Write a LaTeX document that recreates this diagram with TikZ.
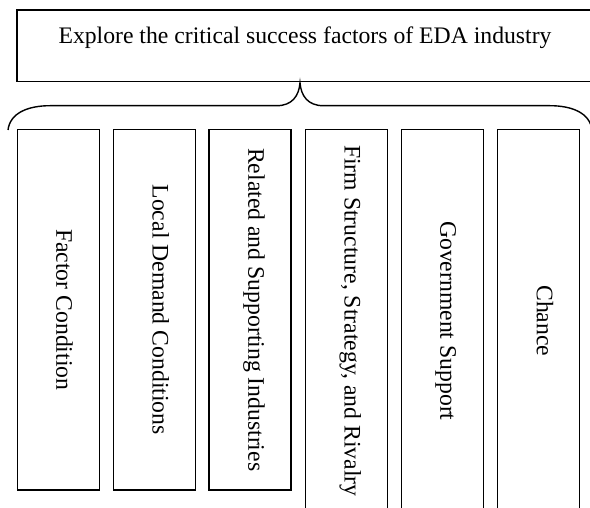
\documentclass[tikz,border=0pt]{standalone}
\usepackage{fontspec}
\setmainfont{Liberation Serif}
\begin{document}
\begin{tikzpicture}[x=1pt, y=-1pt,
  txt/.style={font=\fontsize{23.7}{28}\selectfont},
  framebox/.style={draw, line width=1.4pt, inner sep=0pt},
  factor/.style={framebox, txt, rotate=-90, minimum width=#1,
    minimum height=82pt, text height=0.7em, text depth=0.35em},
  brace/.style={line width=1.4pt}]
  \useasboundingbox (0,0) rectangle (590,508);
  \clip (0,0) rectangle (590,508);

  % goal box (runs slightly past the right edge)
  \node[framebox, txt, minimum width=576pt, text height=33.3pt, text depth=38.4pt]
    (goal) at (305,45.85) {Explore the critical success factors of EDA industry};

  % the curly brace under the goal box
  \coordinate (tip) at (300,82.7);
  \coordinate (bl) at (8,130);
  \coordinate (br) at (592,130);
  \draw[brace] (bl) .. controls (10,113) and (28,105.7) .. (50,105.7)
    -- (276.7,105.7) .. controls (292,105.7) and (299,96) .. (tip)
    .. controls (301,96) and (308,105.7) .. (323.3,105.7)
    -- (550,105.7) .. controls (572,105.7) and (590,113) .. (br);

  % the six factor columns
  \node[factor=360.7pt] (f1) at (58.2,309.7)  {Factor Condition};
  \node[factor=360.7pt] (f2) at (154.3,309.7) {Local Demand Conditions};
  \node[factor=360.7pt] (f3) at (250,309.7)   {Related and Supporting Industries};
  \node[factor=383pt]   (f4) at (346.3,320.8) {Firm Structure, Strategy, and Rivalry};
  \node[factor=383pt]   (f5) at (442.2,320.8) {Government Support};
  \node[factor=383pt]   (f6) at (538.5,320.8) {Chance};
\end{tikzpicture}
\end{document}
